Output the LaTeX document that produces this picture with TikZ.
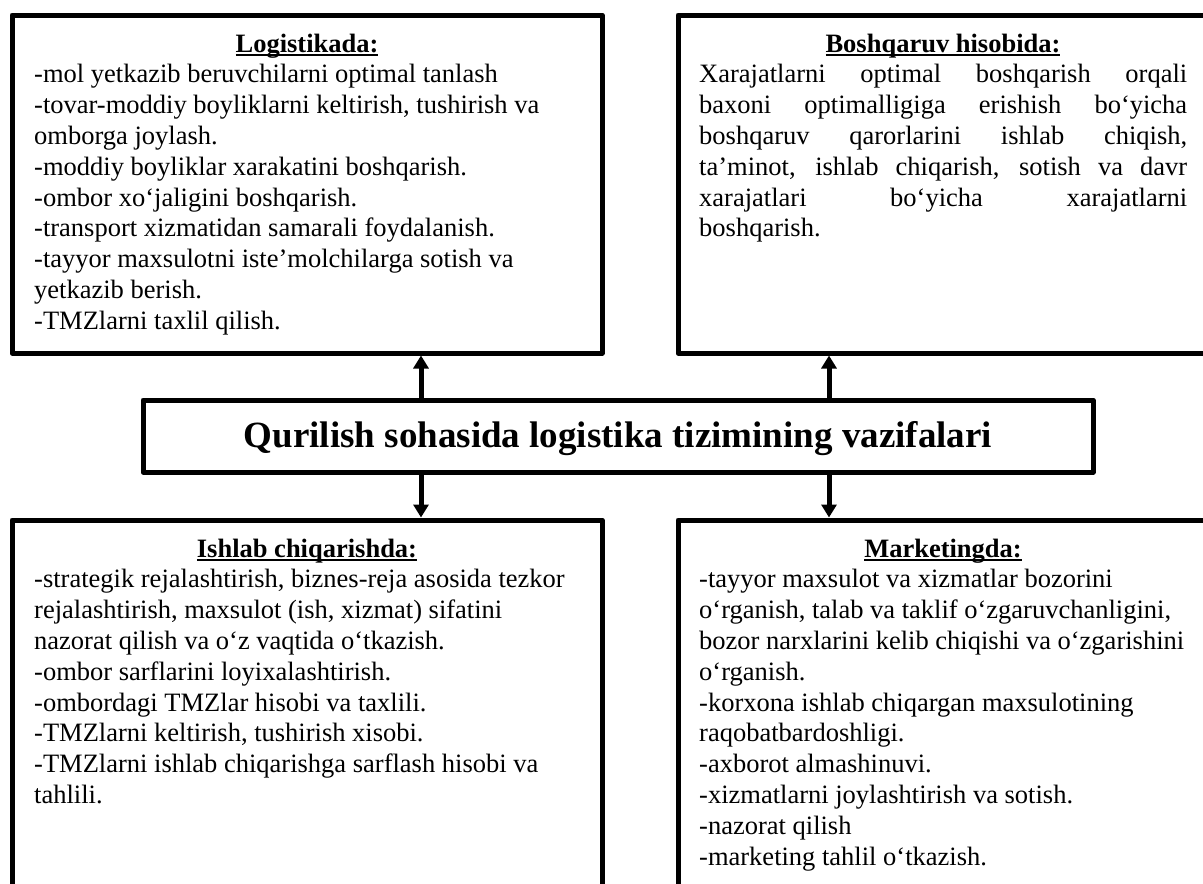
\documentclass[tikz,border=0pt]{standalone}
\usepackage{fontspec}
\setmainfont{Liberation Serif}
\usetikzlibrary{arrows.meta}
\setlength{\parindent}{0pt}
\newcommand{\ulin}[1]{\setbox0\hbox{#1}\rlap{\rule[-4pt]{\wd0}{2.2pt}}\box0}
\newcommand{\jl}[1]{\makebox[488pt][s]{\spaceskip=0pt\xspaceskip=0pt #1}}
\newcommand{\natsp}{\spaceskip=0pt\xspaceskip=0pt\relax}
\tikzset{
  box/.style={draw, line width=5pt, line join=round, inner sep=0pt, outer sep=0pt},
  headtxt/.style={inner sep=0pt, anchor=base, font={\bfseries\fontsize{26.5pt}{30.8pt}\selectfont}},
  bodytxt/.style={inner sep=0pt, anchor=north west, align=left, font={\fontsize{26.5pt}{30.8pt}\selectfont}},
  arr/.style={line width=5pt, -{Triangle[width=15pt,length=13pt]}, shorten >=2.5pt}
}
\begin{document}
\begin{tikzpicture}[x=1pt,y=-1pt]
\useasboundingbox (0,0) rectangle (1203,884);
\clip (0,0) rectangle (1203,884);
% boxes
\node[box, minimum width=590pt, minimum height=338pt] (tl) at (307,184) {};
\node[box, minimum width=530pt, minimum height=338pt] (tr) at (943,184) {};
\node[box, minimum width=590pt, minimum height=380pt] (bl) at (307,710) {};
\node[box, minimum width=530pt, minimum height=380pt] (br) at (943,710) {};
\node[box, minimum width=950pt, minimum height=72pt, text height=25pt, text depth=3pt,
      font={\bfseries\fontsize{37pt}{44pt}\selectfont}] (ctr) at (618,436)
      {Qurilish sohasida logistika tizimining vazifalari};
% headings
\node[headtxt] (tlh) at ([yshift=-37pt]tl.north) {\ulin{Logistikada:}};
\node[headtxt] (trh) at ([yshift=-37pt]tr.north) {\ulin{Boshqaruv hisobida:}};
\node[headtxt] (blh) at ([yshift=-37pt]bl.north) {\ulin{Ishlab chiqarishda:}};
\node[headtxt] (brh) at ([yshift=-37pt]br.north) {\ulin{Marketingda:}};
% bodies
\node[bodytxt, text width=546pt] (tlb) at ([xshift=22pt,yshift=-46.2pt]tl.north west)
 {\natsp\strut-mol yetkazib beruvchilarni optimal tanlash\\
  -tovar-moddiy boyliklarni keltirish, tushirish va\\
  omborga joylash.\\
  -moddiy boyliklar xarakatini boshqarish.\\
  -ombor xo‘jaligini boshqarish.\\
  -transport xizmatidan samarali foydalanish.\\
  -tayyor maxsulotni iste’molchilarga sotish va\\
  yetkazib berish.\\
  -TMZlarni taxlil qilish.};
\node[bodytxt, text width=488pt] (trb) at ([xshift=21pt,yshift=-46.2pt]tr.north west)
 {\natsp\strut\jl{Xarajatlarni optimal boshqarish orqali}\\
  \jl{baxoni optimalligiga erishish bo‘yicha}\\
  \jl{boshqaruv qarorlarini ishlab chiqish,}\\
  \jl{ta’minot, ishlab chiqarish, sotish va davr}\\
  \jl{xarajatlari bo‘yicha xarajatlarni}\\
  boshqarish.};
\node[bodytxt, text width=546pt] (blb) at ([xshift=22pt,yshift=-46.2pt]bl.north west)
 {\natsp\strut-strategik rejalashtirish, biznes-reja asosida tezkor\\
  rejalashtirish, maxsulot (ish, xizmat) sifatini\\
  nazorat qilish va o‘z vaqtida o‘tkazish.\\
  -ombor sarflarini loyixalashtirish.\\
  -ombordagi TMZlar hisobi va taxlili.\\
  -TMZlarni keltirish, tushirish xisobi.\\
  -TMZlarni ishlab chiqarishga sarflash hisobi va\\
  tahlili.};
\node[bodytxt, text width=500pt] (brb) at ([xshift=21pt,yshift=-46.2pt]br.north west)
 {\natsp\strut-tayyor maxsulot va xizmatlar bozorini\\
  o‘rganish, talab va taklif o‘zgaruvchanligini,\\
  bozor narxlarini kelib chiqishi va o‘zgarishini\\
  o‘rganish.\\
  -korxona ishlab chiqargan maxsulotining\\
  raqobatbardoshligi.\\
  -axborot almashinuvi.\\
  -xizmatlarni joylashtirish va sotish.\\
  -nazorat qilish\\
  -marketing tahlil o‘tkazish.};
% connectors
\coordinate (ax1) at (421,0);
\coordinate (ax2) at (829,0);
\draw[arr] (ctr.north -| ax1) -- (tl.south -| ax1);
\draw[arr] (ctr.north -| ax2) -- (tr.south -| ax2);
\draw[arr] (ctr.south -| ax1) -- (bl.north -| ax1);
\draw[arr] (ctr.south -| ax2) -- (br.north -| ax2);
\end{tikzpicture}
\end{document}
